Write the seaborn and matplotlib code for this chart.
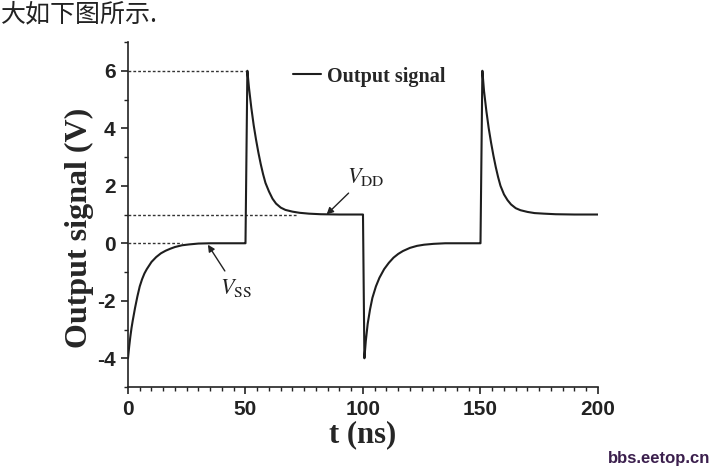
import matplotlib
matplotlib.use("Agg")
import matplotlib.pyplot as plt
import seaborn as sns
from matplotlib.ticker import MultipleLocator

# values
t_ns = [0, 0.5, 1, 1.5, 2, 3, 4, 5, 6, 7, 8, 10, 12, 14, 16, 18, 20, 23, 26, 30, 35, 49.9,
        50, 50.8, 51.5, 52.5, 53.5, 54.5, 55.5, 56.5, 57.5, 58.5, 60, 61.5, 63, 65, 67, 70,
        73, 77, 82, 90, 99.9,
        100, 100.6, 101.2, 102, 103, 104, 105.5, 107, 109, 111, 113, 115, 117, 120, 123, 126,
        130, 135, 149.9,
        150, 150.8, 151.5, 152.5, 153.5, 154.5, 155.5, 156.5, 157.5, 158.5, 160, 161.5, 163,
        165, 167, 170, 173, 177, 182, 190, 200]
v_out = [-4.0, -3.6, -3.25, -2.95, -2.7, -2.25, -1.85, -1.5, -1.25, -1.05, -0.9, -0.65, -0.48,
         -0.35, -0.26, -0.19, -0.13, -0.07, -0.04, -0.01, 0.0, 0.0,
         0.0, 6.0, 5.4, 4.7, 4.1, 3.6, 3.15, 2.75, 2.4, 2.1, 1.8, 1.55, 1.38, 1.24, 1.16, 1.1,
         1.06, 1.03, 1.01, 1.0, 1.0,
         1.0, -4.0, -3.4, -2.8, -2.3, -1.9, -1.5, -1.2, -0.9, -0.68, -0.5, -0.37, -0.27, -0.16,
         -0.09, -0.05, -0.02, 0.0, 0.0,
         0.0, 6.0, 5.3, 4.6, 4.0, 3.5, 3.05, 2.65, 2.3, 2.0, 1.7, 1.5, 1.35,
         1.22, 1.15, 1.09, 1.05, 1.03, 1.01, 1.0, 1.0]

ref_levels = [6, 1, 0]
ref_ends = [50, 72, 23]

x_ticks = [0, 50, 100, 150, 200]
y_ticks = [-4, -2, 0, 2, 4, 6]

sns.set_style("ticks")
plt.rcParams["mathtext.fontset"] = "stix"
plt.rcParams["axes.unicode_minus"] = False

fig = plt.figure(figsize=(7.13, 4.71), dpi=100)
ax = fig.add_axes([0.1795, 0.1783, 0.8387 - 0.1795, 0.9108 - 0.1783])

for lev, end in zip(ref_levels, ref_ends):
    ax.plot([0, end], [lev, lev], ls=(0, (2, 1.5)), color="#333333", lw=1.0)

sns.lineplot(x=t_ns, y=v_out, ax=ax, color="#1e1e1e", lw=1.5,
             sort=False, estimator=None, label="Output signal")

ax.set_xlim(0, 200)
ax.set_ylim(-5, 7)
ax.set_xticks(x_ticks)
ax.set_yticks(y_ticks)
ax.xaxis.set_minor_locator(MultipleLocator(5))
ax.yaxis.set_minor_locator(MultipleLocator(1))
ax.tick_params(which="major", direction="out", length=5, width=1.2, colors="#222222",
               labelsize=15, pad=4)
ax.tick_params(which="minor", direction="out", length=3, width=1.0, colors="#222222")
for lbl in ax.get_xticklabels() + ax.get_yticklabels():
    lbl.set_fontfamily("Liberation Sans")
    lbl.set_fontweight("bold")
for s in ["top", "right"]:
    ax.spines[s].set_visible(False)
for s in ["left", "bottom"]:
    ax.spines[s].set_linewidth(1.2)
    ax.spines[s].set_color("#222222")

ax.set_xlabel("t (ns)", fontfamily="Liberation Serif", fontweight="bold", fontsize=22)
ax.set_ylabel("Output signal (V)", fontfamily="Liberation Serif", fontweight="bold", fontsize=23)
ax.xaxis.set_label_coords(0.5, -0.095)
ax.yaxis.set_label_coords(-0.072, 0.46)

leg = ax.legend(loc="center left", bbox_to_anchor=(0.33, 0.9), frameon=False,
                handlelength=1.4, handletextpad=0.3, borderpad=0,
                prop={"family": "Liberation Serif", "weight": "bold", "size": 14.5})

ax.annotate(r"$\mathit{V}_{\mathrm{DD}}$", xy=(84.5, 1.0), xytext=(93, 2.1),
            fontsize=16, color="#222222",
            arrowprops=dict(arrowstyle="-|>", color="#222222", lw=1.0, mutation_scale=10,
                            shrinkA=2, shrinkB=0))
ax.annotate(r"$\mathit{V}_{\mathrm{SS}}$", xy=(34, -0.05), xytext=(39, -1.75),
            fontsize=16, color="#222222",
            arrowprops=dict(arrowstyle="-|>", color="#222222", lw=1.0, mutation_scale=10,
                            shrinkA=2, shrinkB=0))

fig.text(0.002, 0.998, "大如下图所示.", fontfamily=["Noto Sans CJK SC", "DejaVu Sans"],
         fontsize=18, color="#222222", va="top", ha="left")
fig.text(0.996, 0.01, "bbs.eetop.cn", fontfamily="Liberation Sans",
         fontweight="bold", fontsize=12, color="#3b1f4d", ha="right", va="bottom")

fig.savefig("out.png", dpi=100)
